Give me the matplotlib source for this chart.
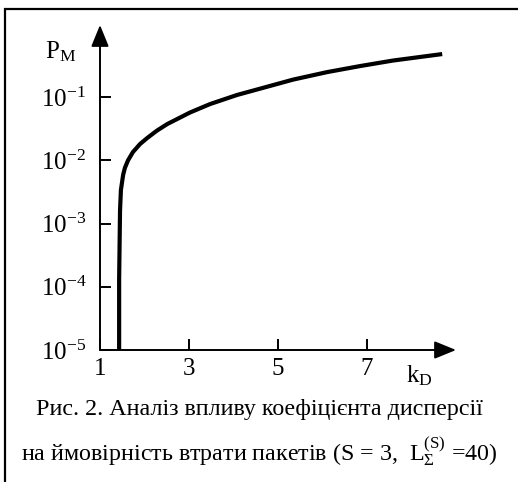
import matplotlib
matplotlib.use("Agg")
import matplotlib.pyplot as plt
from matplotlib.patches import Rectangle

plt.rcParams["font.family"] = ["Liberation Serif", "DejaVu Serif"]
plt.rcParams["mathtext.fontset"] = "custom"
plt.rcParams["mathtext.rm"] = "Liberation Serif"
plt.rcParams["mathtext.it"] = "Liberation Serif:italic"
plt.rcParams["mathtext.bf"] = "Liberation Serif:bold"

# values
k_d = [1.43, 1.43, 1.45, 1.47, 1.52, 1.56, 1.63, 1.74, 1.90, 2.06, 2.28,
       2.51, 3.02, 3.47, 4.08, 4.60, 5.34, 6.10, 6.84, 7.58, 8.69]
p_m = [1.0e-5, 1.3e-4, 1.6e-3, 3.4e-3, 5.9e-3, 7.6e-3, 1.00e-2, 1.35e-2,
       1.81e-2, 2.25e-2, 2.95e-2, 3.74e-2, 5.69e-2, 7.74e-2, 0.108, 0.136,
       0.189, 0.248, 0.309, 0.378, 0.479]

x_ticks = [1, 3, 5, 7]
y_ticks = [1e-5, 1e-4, 1e-3, 1e-2, 1e-1]
y_tick_labels = [r"$10^{-5}$", r"$10^{-4}$", r"$10^{-3}$", r"$10^{-2}$", r"$10^{-1}$"]

caption_1 = "Рис. 2. Аналіз впливу коефіцієнта дисперсії"
caption_2 = r"на ймовірність втрати пакетів (S = 3,  $\mathrm{L}_{\Sigma}^{(\mathrm{S})}$ =40)"

W, H = 518, 482
fig = plt.figure(figsize=(W / 100, H / 100), dpi=100)
ax = fig.add_axes([100 / W, (H - 350) / H, 356 / W, 325 / H])

ax.plot(k_d, p_m, color="black", lw=3, solid_capstyle="butt")
ax.set_yscale("log")
ax.set_xlim(1, 9)
ax.set_ylim(1e-5, 10 ** 0.14)

ax.set_xticks(x_ticks)
ax.set_xticklabels([str(t) for t in x_ticks])
ax.set_yticks(y_ticks)
ax.set_yticklabels(y_tick_labels)
ax.minorticks_off()
ax.tick_params(direction="in", length=8, width=1.4, labelsize=18, colors="black")
ax.tick_params(axis="x", pad=6)
ax.tick_params(axis="y", pad=10)

for s in ax.spines.values():
    s.set_visible(False)

# axes with arrow heads
arrow = dict(arrowstyle="-|>,head_length=1.1,head_width=0.45", color="black",
             lw=1.4, shrinkA=0, shrinkB=0, mutation_scale=12)
ax.annotate("", xy=(1, 0), xytext=(0, 0), xycoords="axes fraction",
            arrowprops=arrow, annotation_clip=False)
ax.annotate("", xy=(0, 1), xytext=(0, 0), xycoords="axes fraction",
            arrowprops=arrow, annotation_clip=False)

fig.text(45 / W, 1 - 52 / H, r"$\mathrm{P}_{\mathrm{M}}$", fontsize=18, va="center")
fig.text(406 / W, 1 - 376 / H, r"$\mathrm{k}_{\mathrm{D}}$", fontsize=18, va="center")

fig.text(0.5, 1 - 410 / H, caption_1, fontsize=17.3, ha="center", va="center")
fig.text(0.5, 1 - 452 / H, caption_2, fontsize=17.3, ha="center", va="center")

# outer frame (continues past the right and bottom edges)
fig.add_artist(Rectangle((5 / W, -0.5), 2, 1.5 - 9 / H, transform=fig.transFigure,
                         fill=False, lw=1.6, ec="black"))

fig.savefig("out.png", dpi=100)
